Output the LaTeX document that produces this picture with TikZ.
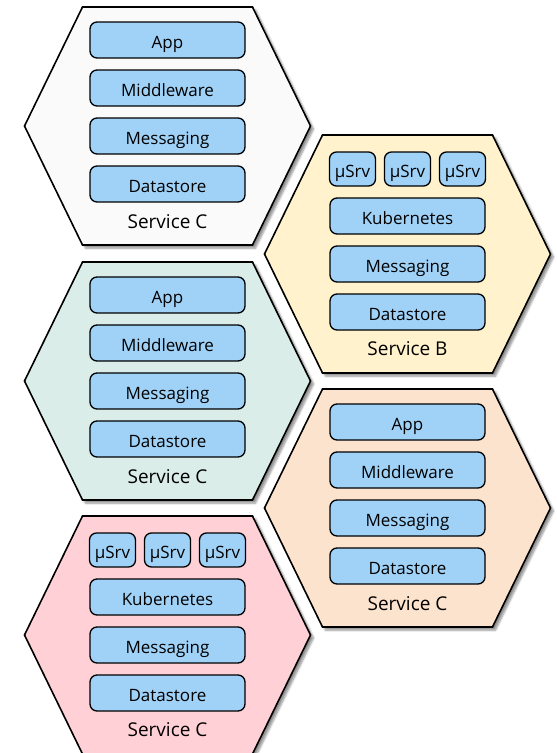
\documentclass[tikz,border=0pt]{standalone}
\usepackage{fontspec}
\setmainfont{Open Sans}
\usetikzlibrary{calc,shadows.blur}

\definecolor{layerblue}{HTML}{A0D2F8}
\definecolor{hexwhite}{HTML}{FAFAFA}
\definecolor{hexyellow}{HTML}{FFF2CC}
\definecolor{hexteal}{HTML}{DAEDE9}
\definecolor{hexpink}{HTML}{FFD1D6}
\definecolor{hexpeach}{HTML}{FCE3CD}

% hexagon round a named centre
\newcommand{\servicehex}[2]{%
  \draw[hex style, fill=#2] (#1) ++(-85,-119) -- ++(170,0) -- ++(58,119)
    -- ++(-58,119) -- ++(-170,0) -- ++(-58,-119) -- cycle;}

% App / Middleware / Messaging / Datastore
\newcommand{\appstack}[2]{%
  \node[layer style] (#1-app)  at ($(#1)+(0,-86)$) {App};
  \node[layer style] (#1-mid)  at ($(#1)+(0,-38)$) {Middleware};
  \node[layer style] (#1-msg)  at ($(#1)+(0,10)$)  {Messaging};
  \node[layer style] (#1-data) at ($(#1)+(0,58)$)  {Datastore};
  \node[label style] (#1-name) at ($(#1)+(0,96)$)  {#2};}

% three microservices on Kubernetes
\newcommand{\usrvstack}[2]{%
  \foreach \dx [count=\i] in {-55,0,55}
    \node[usrv style] (#1-usrv\i) at ($(#1)+(\dx,-85)$) {µSrv};
  \node[layer style] (#1-kube) at ($(#1)+(0,-38)$) {Kubernetes};
  \node[layer style] (#1-msg)  at ($(#1)+(0,10)$)  {Messaging};
  \node[layer style] (#1-data) at ($(#1)+(0,58)$)  {Datastore};
  \node[label style] (#1-name) at ($(#1)+(0,95)$)  {#2};}

\begin{document}
\begin{tikzpicture}[x=1pt, y=-1pt,
    hex style/.style={draw=black, line width=1.6pt,
      blur shadow={shadow xshift=3pt, shadow yshift=-3pt, shadow blur steps=6, shadow opacity=45}},
    layer style/.style={draw=black, line width=1.3pt, fill=layerblue, rounded corners=7pt,
      minimum width=155pt, minimum height=36pt, inner sep=0pt,
      text height=17pt, text depth=0pt, font=\fontsize{17}{19}\selectfont},
    usrv style/.style={layer style, minimum width=46pt, minimum height=34pt},
    label style/.style={font=\fontsize{19}{22}\selectfont}]
    \useasboundingbox (0,0) rectangle (557,753);

    \coordinate (hexA) at (167.5,126);
    \coordinate (hexB) at (407.5,254);
    \coordinate (hexC) at (167.5,381);
    \coordinate (hexD) at (407.5,508);
    \coordinate (hexE) at (167.5,635);

    \servicehex{hexA}{hexwhite}
    \servicehex{hexB}{hexyellow}
    \servicehex{hexC}{hexteal}
    \servicehex{hexD}{hexpeach}
    \servicehex{hexE}{hexpink}

    \appstack{hexA}{Service C}
    \usrvstack{hexB}{Service B}
    \appstack{hexC}{Service C}
    \appstack{hexD}{Service C}
    \usrvstack{hexE}{Service C}

\end{tikzpicture}
\end{document}
